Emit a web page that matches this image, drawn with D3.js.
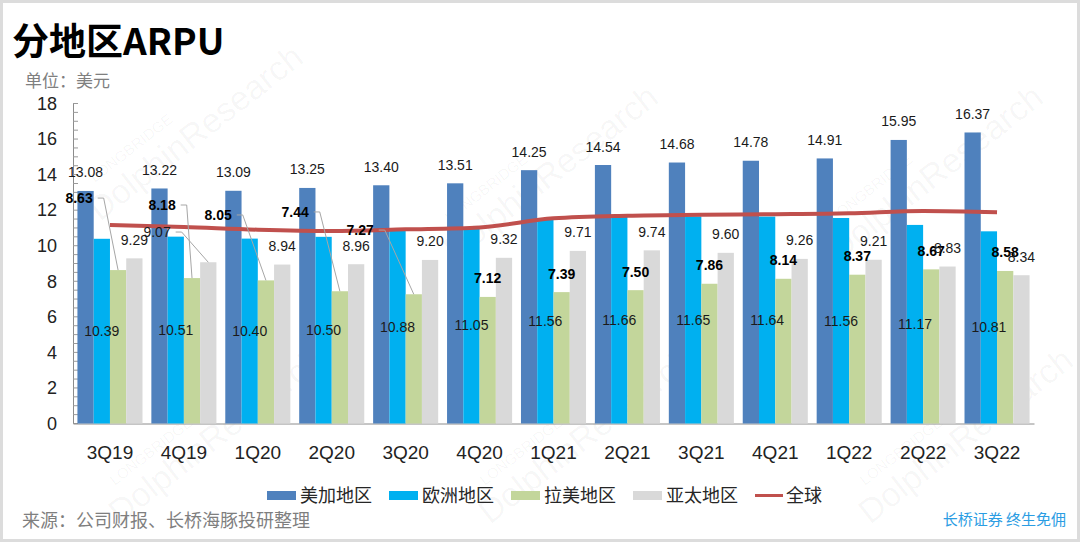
<!DOCTYPE html>
<html><head><meta charset="utf-8">
<script src="https://cdn.jsdelivr.net/npm/d3@7"></script>
<style>
html,body{margin:0;padding:0;background:#fff;}
svg{display:block;}
</style></head>
<body>
<svg id="chart" width="1080" height="542"></svg>
<script>
// ---- data ----
const categories = ["3Q19","4Q19","1Q20","2Q20","3Q20","4Q20","1Q21","2Q21","3Q21","4Q21","1Q22","2Q22","3Q22"];
const seriesNames = ["美加地区","欧洲地区","拉美地区","亚太地区"];
const usCanada = [13.08,13.22,13.09,13.25,13.40,13.51,14.25,14.54,14.68,14.78,14.91,15.95,16.37];
const europe   = [10.39,10.51,10.40,10.50,10.88,11.05,11.56,11.66,11.65,11.64,11.56,11.17,10.81];
const latam    = [8.63,8.18,8.05,7.44,7.27,7.12,7.39,7.50,7.86,8.14,8.37,8.67,8.58];
const apac     = [9.29,9.07,8.94,8.96,9.20,9.32,9.71,9.74,9.60,9.26,9.21,8.83,8.34];
const globalName = "全球";
const globalArpu = [11.16,11.05,10.90,10.83,10.92,11.03,11.54,11.69,11.74,11.77,11.82,11.95,11.88];
const yTicks = [0,2,4,6,8,10,12,14,16,18];

// ---- layout / style ----
const colors = ["#4F81BD","#00B0F0","#C3D69B","#D9D9D9"];
const lineColor = "#C0504D";
const fontLatin = "'Liberation Sans', Arial, sans-serif";
const fontCJK = "'Noto Sans CJK SC', 'Noto Sans', sans-serif";
// manually moved labels: series index, category index, x offset (in band steps), label value position
const movedLabels = [
  {s:2, i:0, dx:-0.418, at:12.68},
  {s:2, i:1, dx:-0.295, at:12.29},
  {s:3, i:1, dx:-0.363, at:10.77},
  {s:2, i:2, dx:-0.537, at:11.73},
  {s:2, i:3, dx:-0.495, at:11.90},
  {s:2, i:4, dx:-0.616, at:10.88}
];

const svg = d3.select("#chart");
const W = 1080, H = 542;
const plot = {left:73, right:1034, top:103.5, bottom:423.5};

// border
svg.append("rect").attr("x",1.5).attr("y",1.5).attr("width",W-3).attr("height",H-3)
  .attr("fill","#fff").attr("stroke","#dcdcdc").attr("stroke-width",3);

// watermarks
const wm = svg.append("g").attr("fill","#000").attr("fill-opacity",0.04).attr("font-family",fontLatin);
[[100,222],[455,262],[840,262],[120,525],[490,525],[870,525]].forEach(([x,y])=>{
  const g = wm.append("g").attr("transform",`translate(${x},${y}) rotate(-38)`);
  g.append("text").attr("x",20).attr("y",-34).attr("font-size",15).text("LONGBRIDGE");
  g.append("text").attr("x",0).attr("y",0).attr("font-size",34).text("DolphinResearch");
});

// title
svg.append("text").attr("x",12).attr("y",55).attr("font-family",fontCJK)
  .attr("font-weight",700).attr("font-size",37).attr("fill","#000").text("分地区ARPU");
svg.append("text").attr("x",25).attr("y",87).attr("font-family",fontCJK)
  .attr("font-size",17).attr("fill","#7f7f7f").text("单位：美元");

// scales
const x = d3.scaleBand().domain(categories).range([plot.left,plot.right]).paddingInner(0.12).paddingOuter(0.06);
const xs = d3.scaleBand().domain(seriesNames).range([0,x.bandwidth()]);
const y = d3.scaleLinear().domain([0,18]).range([plot.bottom,plot.top]);
const step = x.step();

// y axis
const yAxis = svg.append("g").attr("transform",`translate(${plot.left},0)`)
  .call(d3.axisLeft(y).tickValues(yTicks).tickSize(0).tickPadding(16));
yAxis.select(".domain").attr("stroke","#8c8c8c");
yAxis.selectAll("text").attr("font-family",fontLatin).attr("font-size",18).attr("fill","#222");
const minor = d3.range(0,18.01,0.5);
svg.append("g").selectAll("line").data(minor).join("line")
  .attr("x1",plot.left).attr("x2",plot.left+5)
  .attr("y1",d=>y(d)).attr("y2",d=>y(d)).attr("stroke","#9a9a9a").attr("stroke-width",1);

// x axis
const xAxis = svg.append("g").attr("transform",`translate(0,${plot.bottom})`)
  .call(d3.axisBottom(x).tickSize(0).tickPadding(22));
xAxis.select(".domain").attr("stroke","#8c8c8c");
xAxis.selectAll("text").attr("font-family",fontLatin).attr("font-size",19).attr("fill","#222");

// bars
const allSeries = [usCanada,europe,latam,apac];
const groups = svg.append("g").selectAll("g").data(categories).join("g")
  .attr("transform",d=>`translate(${x(d)},0)`);
groups.selectAll("rect").data((c,i)=>allSeries.map((s,k)=>({k,v:s[i]}))).join("rect")
  .attr("x",d=>xs(seriesNames[d.k])).attr("width",xs.bandwidth())
  .attr("y",d=>y(d.v)).attr("height",d=>y(0)-y(d.v)).attr("fill",d=>colors[d.k]);

// global line
const line = d3.line().x((d,i)=>x(categories[i])+x.bandwidth()/2).y(d=>y(d)).curve(d3.curveMonotoneX);
svg.append("path").datum(globalArpu).attr("d",line).attr("fill","none")
  .attr("stroke",lineColor).attr("stroke-width",4).attr("stroke-linecap","butt");

// labels
const barCx = (k,i)=>x(categories[i])+xs(seriesNames[k])+xs.bandwidth()/2;
const lbl = svg.append("g").attr("font-family",fontLatin).attr("font-size",14).attr("fill","#1a1a1a")
  .attr("text-anchor","middle").attr("dominant-baseline","central");
const leaders = svg.append("g").attr("fill","none").attr("stroke","#a6a6a6").attr("stroke-width",1);
allSeries.forEach((s,k)=>{
  s.forEach((v,i)=>{
    const mv = movedLabels.find(m=>m.s===k && m.i===i);
    let lx, ly;
    if (k===1){ lx = barCx(k,i); ly = y(v/2); }
    else if (mv){ lx = x(categories[i])+x.bandwidth()/2 + mv.dx*step; ly = y(mv.at); }
    else { lx = barCx(k,i); ly = y(v)-18.5; }
    const t = lbl.append("text").attr("x",lx).attr("y",ly).text(v.toFixed(2));
    if (k===2) t.attr("font-weight",700).attr("fill","#000");
    if (mv){
      const w = t.node().getComputedTextLength();
      const sx = lx + w/2 + 5, ex = sx + 6;
      leaders.append("path").attr("d",`M${sx},${ly}H${ex}L${barCx(k,i)},${y(v)}`);
    }
  });
});
lbl.raise();

// legend
const legend = svg.append("g").attr("font-family",fontCJK).attr("font-size",18).attr("fill","#262626");
seriesNames.forEach((n,k)=>{
  const lx = 267 + k*122;
  legend.append("rect").attr("x",lx).attr("y",491).attr("width",29).attr("height",9).attr("fill",colors[k]);
  legend.append("text").attr("x",lx+33).attr("y",502).text(n);
});
legend.append("line").attr("x1",755).attr("x2",783).attr("y1",495.5).attr("y2",495.5)
  .attr("stroke",lineColor).attr("stroke-width",3);
legend.append("text").attr("x",786).attr("y",502).text(globalName);

// footer
svg.append("text").attr("x",22).attr("y",527).attr("font-family",fontCJK).attr("font-size",18)
  .attr("fill","#7f7f7f").text("来源：公司财报、长桥海豚投研整理");
svg.append("text").attr("x",1066).attr("y",525).attr("text-anchor","end").attr("font-family",fontCJK)
  .attr("font-size",15).attr("fill","#2b9de3").text("长桥证券 终生免佣");
</script>
</body></html>
